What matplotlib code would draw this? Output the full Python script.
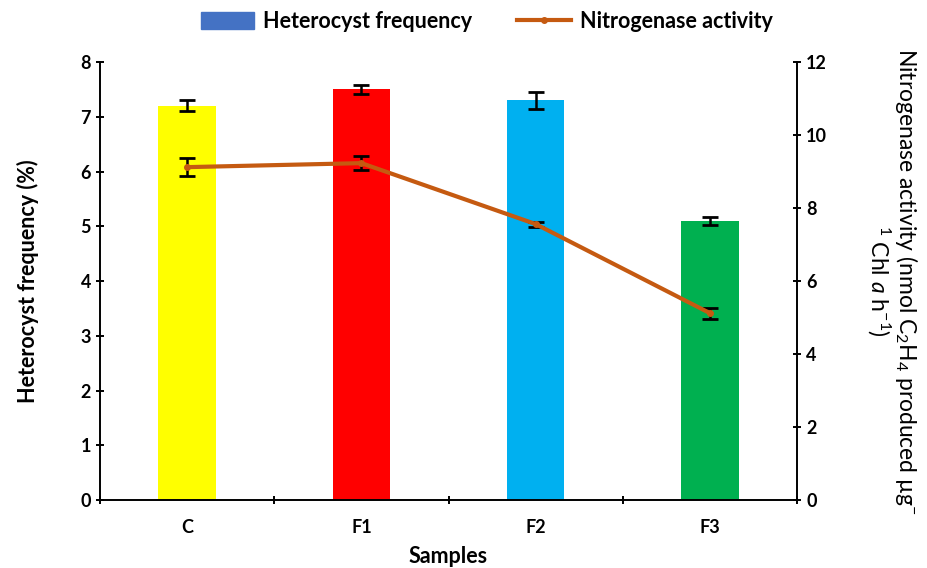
import numpy as np
import matplotlib.pyplot as plt
from matplotlib.patches import Patch
from matplotlib.lines import Line2D

plt.rcParams['font.family'] = ['Lato', 'DejaVu Sans']
plt.rcParams['mathtext.fontset'] = 'custom'
plt.rcParams['mathtext.rm'] = 'Lato'
plt.rcParams['mathtext.it'] = 'Lato:italic'

# data
samples = ["C", "F1", "F2", "F3"]
heterocyst = [7.2, 7.5, 7.3, 5.1]
heterocyst_err = [0.1, 0.08, 0.15, 0.07]
nitrogenase = [9.12, 9.23, 7.56, 5.12]
nitrogenase_err = [0.25, 0.2, 0.07, 0.15]
bar_colors = ["#FFFF00", "#FF0000", "#00B0F0", "#00B050"]
line_color = "#C55A11"

fig = plt.figure(figsize=(9.27, 5.68), dpi=100)
ax = fig.add_axes([0.1079, 0.1197, 0.7519, 0.7711])
x = np.arange(len(samples))

ax.bar(x, heterocyst, width=0.33, color=bar_colors, zorder=2)
ax.errorbar(x, heterocyst, yerr=heterocyst_err, fmt='none', ecolor='black',
            elinewidth=1.8, capsize=6, capthick=2, zorder=3)
ax.set_xlim(-0.5, 3.5)
ax.set_ylim(0, 8)
ax.set_xticks([-0.5, 0.5, 1.5, 2.5, 3.5])
ax.set_xticklabels([])
ax.set_xticks(x, minor=True)
ax.set_xticklabels(samples, minor=True, fontsize=13, fontweight='bold')
ax.tick_params(axis='x', which='minor', length=0, pad=14)
ax.tick_params(axis='x', which='major', length=6, width=1.4, direction='inout')
ax.tick_params(axis='y', length=6, width=1.4, direction='inout', labelsize=13)
for lab in ax.get_yticklabels():
    lab.set_fontweight('bold')
ax.set_ylabel("Heterocyst frequency (%)", fontsize=15.5, fontweight='bold', labelpad=30)
ax.set_xlabel("Samples", fontsize=15.5, fontweight='bold', labelpad=7)
ax.spines['top'].set_visible(False)
ax.spines['right'].set_visible(False)
ax.spines['left'].set_linewidth(1.4)
ax.spines['bottom'].set_linewidth(1.4)

ax2 = ax.twinx()
ax2.errorbar(x, nitrogenase, yerr=nitrogenase_err, fmt='none', ecolor='black',
             elinewidth=1.8, capsize=6, capthick=2, zorder=3)
ax2.plot(x, nitrogenase, color=line_color, lw=3, marker='o', markersize=4, zorder=4)
ax2.set_ylim(0, 12)
ax2.set_yticks(np.arange(0, 13, 2))
ax2.tick_params(axis='y', length=6, width=1.4, direction='inout', labelsize=13)
for lab in ax2.get_yticklabels():
    lab.set_fontweight('bold')
ax2.spines['top'].set_visible(False)
ax2.spines['left'].set_visible(False)
ax2.spines['bottom'].set_visible(False)
ax2.spines['right'].set_linewidth(1.4)
ax2.set_ylabel("Nitrogenase activity (nmol C$_2$H$_4$ produced µg$^{-}$\n$^{1}$ Chl $\\mathit{a}$ h$^{-1}$)",
               fontsize=16.5, rotation=-90, labelpad=67, linespacing=1.05)

handles = [Patch(color="#4472C4"),
           Line2D([0], [0], color=line_color, lw=3, marker='o', markersize=4)]
fig.legend(handles, ["Heterocyst frequency", "Nitrogenase activity"],
           loc='center', bbox_to_anchor=(0.525, 0.962), ncol=2, frameon=False,
           prop={'size': 15.5, 'weight': 'bold'}, handlelength=2.5, columnspacing=2.1,
           handleheight=0.8, handletextpad=0.4)

fig.savefig("out.png", dpi=100)
